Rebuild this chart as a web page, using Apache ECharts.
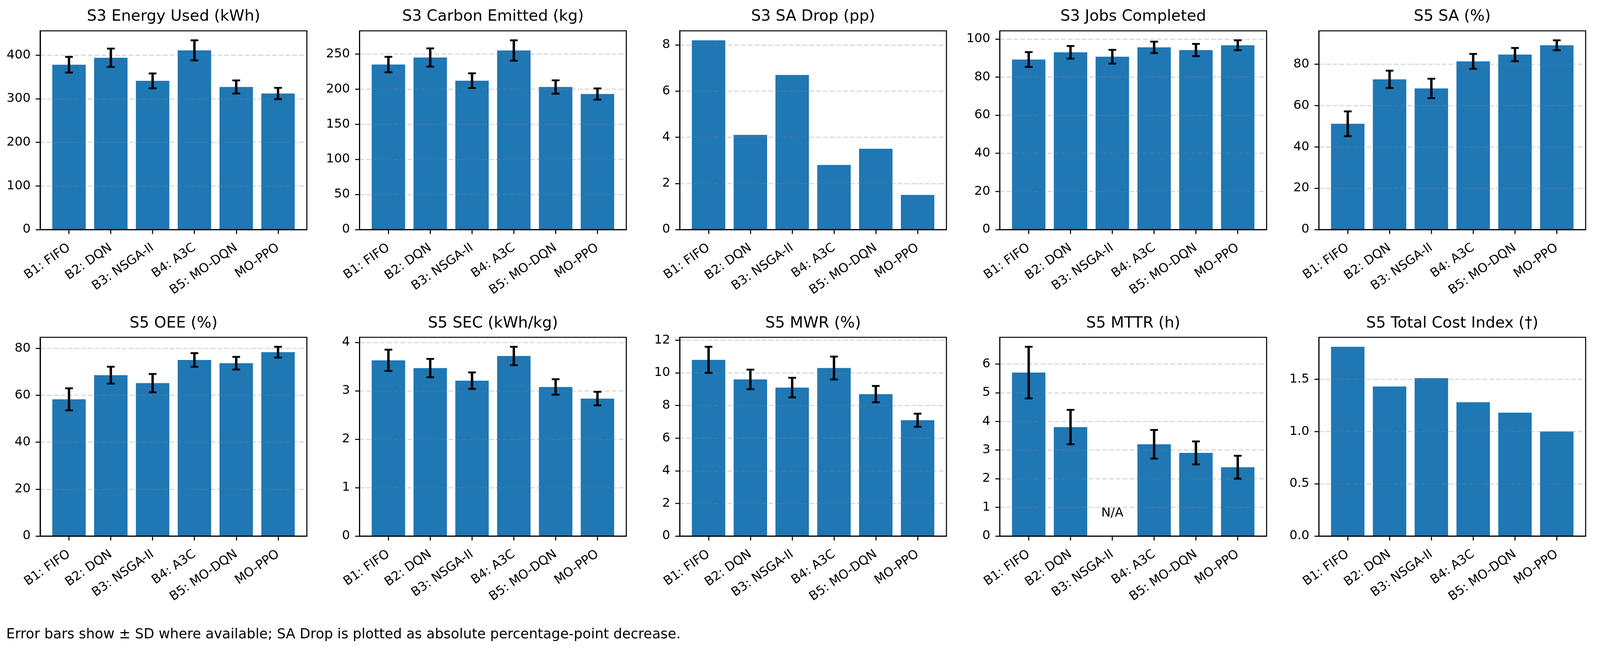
<!DOCTYPE html>
<html>
<head>
<meta charset="utf-8">
<script src="https://cdn.jsdelivr.net/npm/echarts@6/dist/echarts.min.js"></script>
<style>
  html, body { margin: 0; padding: 0; background: #fff; overflow: hidden; }
  #chart { width: 100vw; height: 100vh; }
</style>
</head>
<body>
<div id="chart"></div>
<script>
// ---------------- data ----------------
const categories = ['B1: FIFO', 'B2: DQN', 'B3: NSGA-II', 'B4: A3C', 'B5: MO-DQN', 'MO-PPO'];

const energyMean = [378, 394, 341, 411, 327, 312];
const energySD   = [18, 21, 17, 23, 15, 13];

const carbonMean = [235, 245, 212, 255, 203, 193];
const carbonSD   = [11, 13, 10.5, 14.5, 9.5, 8];

const saDrop = [8.2, 4.1, 6.7, 2.8, 3.5, 1.5];

const jobsMean = [89.2, 93.0, 90.7, 95.6, 94.2, 96.7];
const jobsSD   = [3.9, 3.3, 3.6, 3.0, 3.2, 2.6];

const s5SaMean = [51.2, 72.7, 68.3, 81.4, 84.7, 89.2];
const s5SaSD   = [6.0, 4.2, 4.7, 3.6, 3.2, 2.4];

const oeeMean = [58.3, 68.6, 65.2, 75.1, 73.7, 78.4];
const oeeSD   = [4.7, 3.6, 3.9, 2.9, 2.7, 2.3];

const secMean = [3.63, 3.47, 3.21, 3.72, 3.08, 2.84];
const secSD   = [0.22, 0.19, 0.17, 0.19, 0.16, 0.14];

const mwrMean = [10.8, 9.6, 9.1, 10.3, 8.7, 7.1];
const mwrSD   = [0.8, 0.6, 0.6, 0.7, 0.5, 0.4];

const mttrMean = [5.7, 3.8, null, 3.2, 2.9, 2.4];
const mttrSD   = [0.9, 0.6, null, 0.5, 0.4, 0.4];

const costIndex = [1.81, 1.43, 1.51, 1.28, 1.18, 1.00];

// tick labels (y axes)
const ticksEnergy = [0, 100, 200, 300, 400];
const ticksCarbon = [0, 50, 100, 150, 200, 250];
const ticksSaDrop = [0, 2, 4, 6, 8];
const ticksJobs   = [0, 20, 40, 60, 80, 100];
const ticksS5Sa   = [0, 20, 40, 60, 80];
const ticksOee    = [0, 20, 40, 60, 80];
const ticksSec    = [0, 1, 2, 3, 4];
const ticksMwr    = [0, 2, 4, 6, 8, 10, 12];
const ticksMttr   = [0, 1, 2, 3, 4, 5, 6];
const ticksCost   = [0, 0.5, 1.0, 1.5];

const naText = 'N/A';
const naValue = 0.8;

const footnote = 'Error bars show \u00b1 SD where available; SA Drop is plotted as absolute percentage-point decrease.';

// ---------------- panels ----------------
const panels = [
  { title: 'S3 Energy Used (kWh)',  mean: energyMean, sd: energySD, ticks: ticksEnergy, dec: 0 },
  { title: 'S3 Carbon Emitted (kg)', mean: carbonMean, sd: carbonSD, ticks: ticksCarbon, dec: 0 },
  { title: 'S3 SA Drop (pp)',       mean: saDrop, sd: null, ticks: ticksSaDrop, dec: 0 },
  { title: 'S3 Jobs Completed',     mean: jobsMean, sd: jobsSD, ticks: ticksJobs, dec: 0 },
  { title: 'S5 SA (%)',             mean: s5SaMean, sd: s5SaSD, ticks: ticksS5Sa, dec: 0 },
  { title: 'S5 OEE (%)',            mean: oeeMean, sd: oeeSD, ticks: ticksOee, dec: 0 },
  { title: 'S5 SEC (kWh/kg)',       mean: secMean, sd: secSD, ticks: ticksSec, dec: 0 },
  { title: 'S5 MWR (%)',            mean: mwrMean, sd: mwrSD, ticks: ticksMwr, dec: 0 },
  { title: 'S5 MTTR (h)',           mean: mttrMean, sd: mttrSD, ticks: ticksMttr, dec: 0, na: true },
  { title: 'S5 Total Cost Index (\u2020)', mean: costIndex, sd: null, ticks: ticksCost, dec: 1 }
];

// ---------------- layout (designed for 4343 x 1670, scaled to the real container) ----------------
const el = document.getElementById('chart');
const W = el.clientWidth || 4343, H = el.clientHeight || 1670;
const sx = W / 4343, sy = H / 1670, sf = Math.min(sx, sy);
const X = v => v * sx, Y = v => v * sy, F = v => v * sf;

const FONT = 'DejaVu Sans';
const TICK_FS = 34, TITLE_FS = 42, NOTE_FS = 37.5;
const colLeft = [109, 976, 1845, 2714, 3580];
const rowTop = [79, 864];
const gridW = 724, gridH = 509;
const titleY = [43, 829];
const BAR = '#1f77b4';
const xMin = -0.69, xMax = 5.69;

const chart = echarts.init(el, null, { renderer: 'canvas' });

const grids = [], xAxes = [], yAxes = [], series = [], graphics = [];

panels.forEach((p, k) => {
  const r = Math.floor(k / 5), c = k % 5;
  grids.push({
    left: X(colLeft[c]), top: Y(rowTop[r]), width: X(gridW), height: Y(gridH),
    show: true, borderColor: '#000', borderWidth: F(2.8), backgroundColor: 'transparent', z: 5
  });
  let top = 0;
  p.mean.forEach((v, i) => {
    if (v == null) return;
    const s = p.sd && p.sd[i] != null ? p.sd[i] : 0;
    top = Math.max(top, v + s);
  });
  const yMax = top * 1.05;
  const idx = [0, 1, 2, 3, 4, 5];
  xAxes.push({
    type: 'value', gridIndex: k, min: xMin, max: xMax, z: 5,
    splitLine: { show: false },
    axisLine: { show: true, onZero: false, lineStyle: { color: '#000', width: F(2.8) } },
    axisTick: { show: true, customValues: idx, length: F(12), lineStyle: { color: '#000', width: F(2.8) } },
    axisLabel: {
      show: true, customValues: idx, rotate: 35, margin: F(46),
      fontSize: F(TICK_FS), fontFamily: FONT, color: '#000',
      formatter: (v) => categories[Math.round(v)]
    }
  });
  yAxes.push({
    type: 'value', gridIndex: k, min: 0, max: yMax, z: 3,
    splitLine: { show: true, lineStyle: { color: 'rgba(128,128,128,0.35)', width: F(2.8), type: [F(13), F(5.5)] } },
    axisLine: { show: true, onZero: false, lineStyle: { color: '#000', width: F(2.8) } },
    axisTick: { show: true, customValues: p.ticks, length: F(12), lineStyle: { color: '#000', width: F(2.8) } },
    axisLabel: {
      show: true, customValues: p.ticks, margin: F(26),
      fontSize: F(TICK_FS), fontFamily: FONT, color: '#000',
      formatter: (v) => Number(v).toFixed(p.dec)
    }
  });
  const barData = p.mean.map((v, i) => [i, v]).filter(d => d[1] != null);
  series.push({
    type: 'custom', coordinateSystem: 'cartesian2d', xAxisIndex: k, yAxisIndex: k, z: 1,
    silent: true, animation: false,
    encode: { x: 0, y: 1 },
    data: barData,
    renderItem: (params, api) => {
      const x = api.value(0), y = api.value(1);
      const p0 = api.coord([x - 0.4, y]);
      const p1 = api.coord([x + 0.4, 0]);
      return {
        type: 'rect',
        shape: { x: p0[0], y: p0[1], width: p1[0] - p0[0], height: p1[1] - p0[1] },
        style: { fill: BAR }
      };
    }
  });
  if (p.sd) {
    const errData = p.mean.map((v, i) => [i, v, p.sd[i]]).filter(d => d[1] != null && d[2] != null);
    series.push({
      type: 'custom', coordinateSystem: 'cartesian2d', xAxisIndex: k, yAxisIndex: k, z: 6,
      silent: true, animation: false,
      encode: { x: 0, y: 1 },
      data: errData,
      renderItem: (params, api) => {
        const x = api.value(0), m = api.value(1), s = api.value(2);
        const t = api.coord([x, m + s]);
        const b = api.coord([x, m - s]);
        const hw = F(10.5);
        return {
          type: 'group',
          children: [
            { type: 'line', shape: { x1: t[0], y1: t[1], x2: b[0], y2: b[1] }, style: { stroke: '#000', lineWidth: F(6.5) } },
            { type: 'line', shape: { x1: t[0] - hw, y1: t[1], x2: t[0] + hw, y2: t[1] }, style: { stroke: '#000', lineWidth: F(5) } },
            { type: 'line', shape: { x1: b[0] - hw, y1: b[1], x2: b[0] + hw, y2: b[1] }, style: { stroke: '#000', lineWidth: F(5) } }
          ]
        };
      }
    });
  }
  if (p.na) {
    const naData = p.mean.map((v, i) => [i, naValue, v]).filter(d => d[2] == null).map(d => [d[0], d[1]]);
    series.push({
      type: 'custom', coordinateSystem: 'cartesian2d', xAxisIndex: k, yAxisIndex: k, z: 6,
      silent: true, animation: false,
      encode: { x: 0, y: 1 },
      data: naData,
      renderItem: (params, api) => {
        const pt = api.coord([api.value(0), api.value(1)]);
        return {
          type: 'text', x: pt[0], y: pt[1],
          style: { text: naText, fontSize: F(TICK_FS), fontFamily: FONT, fill: '#000', align: 'center', verticalAlign: 'middle' }
        };
      }
    });
  }
  graphics.push({
    type: 'text', x: X(colLeft[c] + gridW / 2), y: Y(titleY[r]), z: 10,
    style: { text: p.title, fontSize: F(TITLE_FS), fontFamily: FONT, fill: '#000', align: 'center', verticalAlign: 'middle' }
  });
});

graphics.push({
  type: 'text', x: X(17), y: Y(1626), z: 10,
  style: { text: footnote, fontSize: F(NOTE_FS), fontFamily: FONT, fill: '#000', align: 'left', verticalAlign: 'middle' }
});

chart.setOption({
  animation: false,
  backgroundColor: '#fff',
  grid: grids,
  xAxis: xAxes,
  yAxis: yAxes,
  series: series,
  graphic: { elements: graphics }
});
</script>
</body>
</html>
